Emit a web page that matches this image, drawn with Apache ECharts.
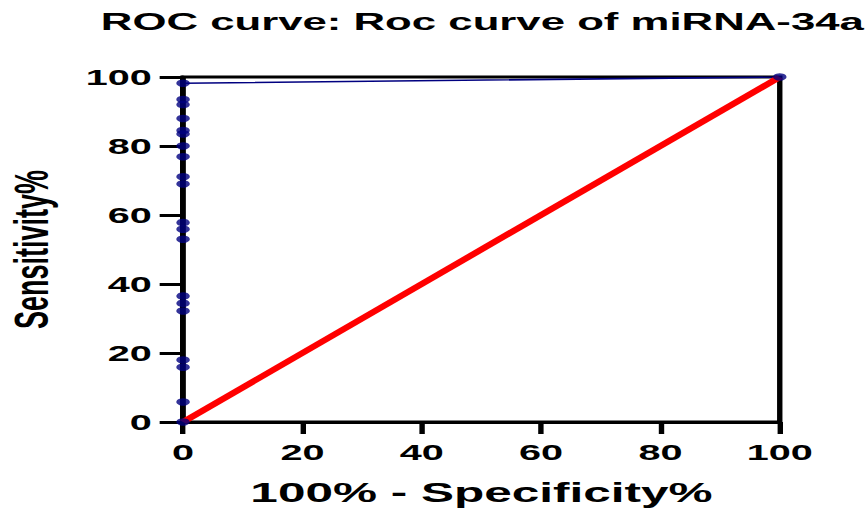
<!DOCTYPE html>
<html>
<head>
<meta charset="utf-8">
<script src="https://cdn.jsdelivr.net/npm/echarts@6/dist/echarts.min.js"></script>
<style>
  html, body { margin: 0; padding: 0; background: #fff; overflow: hidden; }
  #chart { width: 481px; height: 513px; transform: scaleX(1.8); transform-origin: 0 0; }
</style>
</head>
<body>
<div id="chart"></div>
<script>
// ROC curve data (x = 100% - Specificity%, y = Sensitivity%)
const rocX = [0, 0, 0, 0, 0, 0, 0, 0, 0, 0, 0, 0, 0, 0, 0, 0, 0, 0, 0, 0, 100];
const rocY = [0, 5.8, 15.9, 18.0, 32.2, 34.4, 36.5, 53.0, 55.9, 57.8, 69.0, 71.1, 76.9, 80.0, 83.5, 84.5, 88.0, 92.0, 93.5, 98.2, 100];
const refX = [0, 100];
const refY = [0, 100];
const titleText = 'ROC curve: Roc curve of miRNA-34a';
const xName = '100% - Specificity%';
const yName = 'Sensitivity%';

const rocData = rocX.map((x, i) => [x, rocY[i]]);
const refData = refX.map((x, i) => [x, refY[i]]);

const chart = echarts.init(document.getElementById('chart'), null, { renderer: 'svg' });
const font = 'Liberation Sans, Arial, sans-serif';
chart.setOption({
  animation: false,
  backgroundColor: '#fff',
  title: {
    text: titleText, left: 56, top: 9, padding: 0,
    textStyle: { fontFamily: font, fontWeight: 'bold', fontSize: 24.3, color: '#000' }
  },
  grid: {
    left: 101.7, right: 47.8, top: 77, bottom: 91,
    outerBoundsMode: 'none', containLabel: false,
    show: true, borderColor: '#000', borderWidth: 3, backgroundColor: 'transparent'
  },
  xAxis: {
    type: 'value', min: 0, max: 100, interval: 20, z: 2,
    name: xName, nameLocation: 'middle', nameGap: 56,
    nameTextStyle: { fontFamily: font, fontWeight: 'bold', fontSize: 27.5, color: '#000' },
    axisLine: { show: true, onZero: false, lineStyle: { color: '#000', width: 3 } },
    axisTick: { show: true, length: 12, lineStyle: { color: '#000', width: 3 } },
    axisLabel: { margin: 19, fontFamily: font, fontWeight: 'bold', fontSize: 22, color: '#000' },
    splitLine: { show: false }
  },
  yAxis: {
    type: 'value', min: 0, max: 100, interval: 20, z: 2,
    name: yName, nameLocation: 'middle', nameGap: 71,
    nameTextStyle: { fontFamily: font, fontWeight: 'bold', fontSize: 27, color: '#000' },
    axisLine: { show: true, onZero: false, lineStyle: { color: '#000', width: 3 } },
    axisTick: { show: true, length: 13, lineStyle: { color: '#000', width: 3 } },
    axisLabel: { margin: 17.4, fontFamily: font, fontWeight: 'bold', fontSize: 22, color: '#000' },
    splitLine: { show: false }
  },
  series: [
    {
      type: 'line', data: refData, z: 3, showSymbol: false, symbol: 'none',
      lineStyle: { color: '#ff0000', width: 5 }
    },
    {
      type: 'line', data: rocData, z: 1, showSymbol: false, symbol: 'none',
      lineStyle: { color: '#000080', width: 1.6 }
    },
    {
      type: 'scatter', data: rocData, z: 4, symbol: 'circle', symbolSize: 7.5,
      itemStyle: { color: '#000080' }
    }
  ]
});
</script>
</body>
</html>
